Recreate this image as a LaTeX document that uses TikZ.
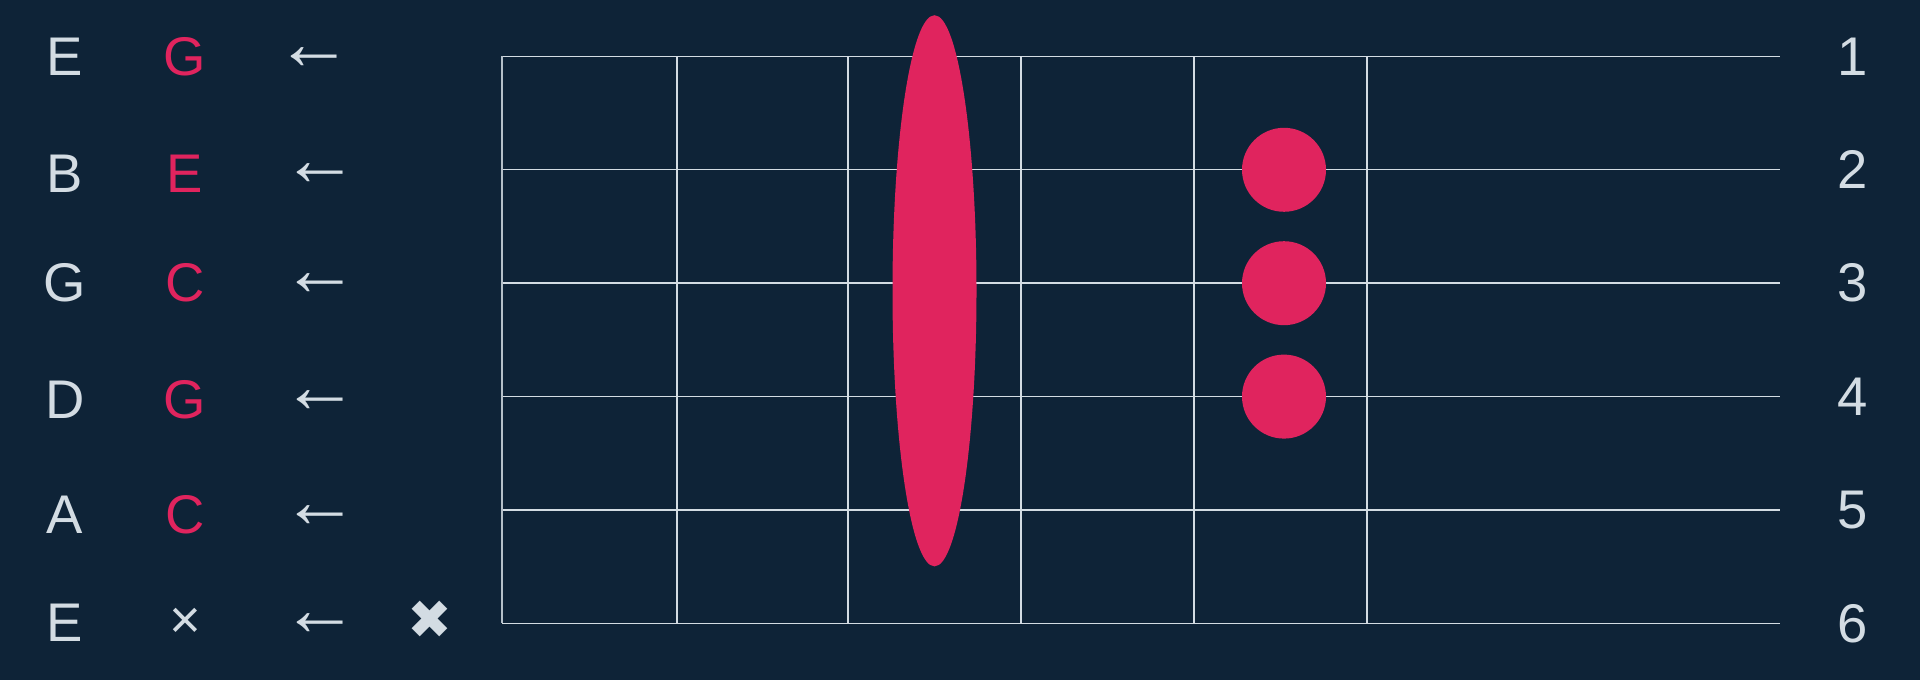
\documentclass[tikz,border=0pt]{standalone}
\usepackage{fontspec}
\setmainfont{Liberation Sans}
\newfontfamily\marksymbol{DejaVu Sans}
\usetikzlibrary{positioning}

\definecolor{boardbg}{HTML}{0E2337}
\definecolor{notered}{HTML}{E0245E}
\definecolor{inkgray}{HTML}{D3DCE3}

\begin{document}
\begin{tikzpicture}[
    x=0.02cm, y=0.02cm,
    label/.style = {text=inkgray, inner sep=0pt, font=\fontsize{31}{31}\selectfont},
    note/.style = {label, text=notered},
    pointer/.style = {label, font=\fontsize{44}{44}\selectfont},
    fretline/.style = {draw=inkgray, line width=0.8pt},
    nutline/.style = {draw=inkgray!85!boardbg, line width=1.6pt},
    dot/.style = {circle, fill=notered, inner sep=0pt, minimum size=1.68cm}]

    % background
    \fill[boardbg] (0,0) rectangle (1920,680);
    \useasboundingbox (0,0) rectangle (1920,680);

    % strings 1..6
    \foreach \s/\y in {1/623.6, 2/510.2, 3/396.8, 4/283.4, 5/170, 6/56.6} {
        \coordinate (s\s) at (502,\y);
        \draw[fretline] (s\s) -- (1780,\y);
        \node[label] (num\s) at (1853,\y) {\s};
    }
    % frets
    \foreach \f/\x in {1/677, 2/848, 3/1021, 4/1194, 5/1367}
        \draw[fretline] (\x,623.6) -- (\x,56.6);
    \draw[nutline] (s1) -- (s6);

    % barre and fingers
    \fill[notered] (934.5,389.2) ellipse [x radius=42, y radius=275.6];
    \node[dot] (f2) at (1284,510.2) {};
    \node[dot] (f3) at (1284,396.8) {};
    \node[dot] (f4) at (1284,283.4) {};

    % open strings, sounded notes
    \node[label] (o1) at (65,623.5) {E};
    \node[label] (o2) at (65,506.6) {B};
    \node[label] (o3) at (65,397) {G};
    \node[label] (o4) at (65,280) {D};
    \node[label] (o5) at (65,165.5) {A};
    \node[label] (o6) at (65,57.4) {E};

    \node[note] (n1) at (185,623.5) {G};
    \node[note] (n2) at (185,506.6) {E};
    \node[note] (n3) at (185,397) {C};
    \node[note] (n4) at (185,280) {G};
    \node[note] (n5) at (185,165.5) {C};
    \node[label] (n6) at (185,56.3) {×};

    \node[pointer] (a1) at (314.5,621.7) {←};
    \node[pointer] (a2) at (320.5,505) {←};
    \node[pointer] (a3) at (320.5,395) {←};
    \node[pointer] (a4) at (320.5,278.3) {←};
    \node[pointer] (a5) at (320.5,163.3) {←};
    \node[pointer] (a6) at (320.5,55) {←};

    \node[label, font=\marksymbol\fontsize{30.5}{30.5}\selectfont] (mute) at (430,60.3) {✖};
\end{tikzpicture}
\end{document}
